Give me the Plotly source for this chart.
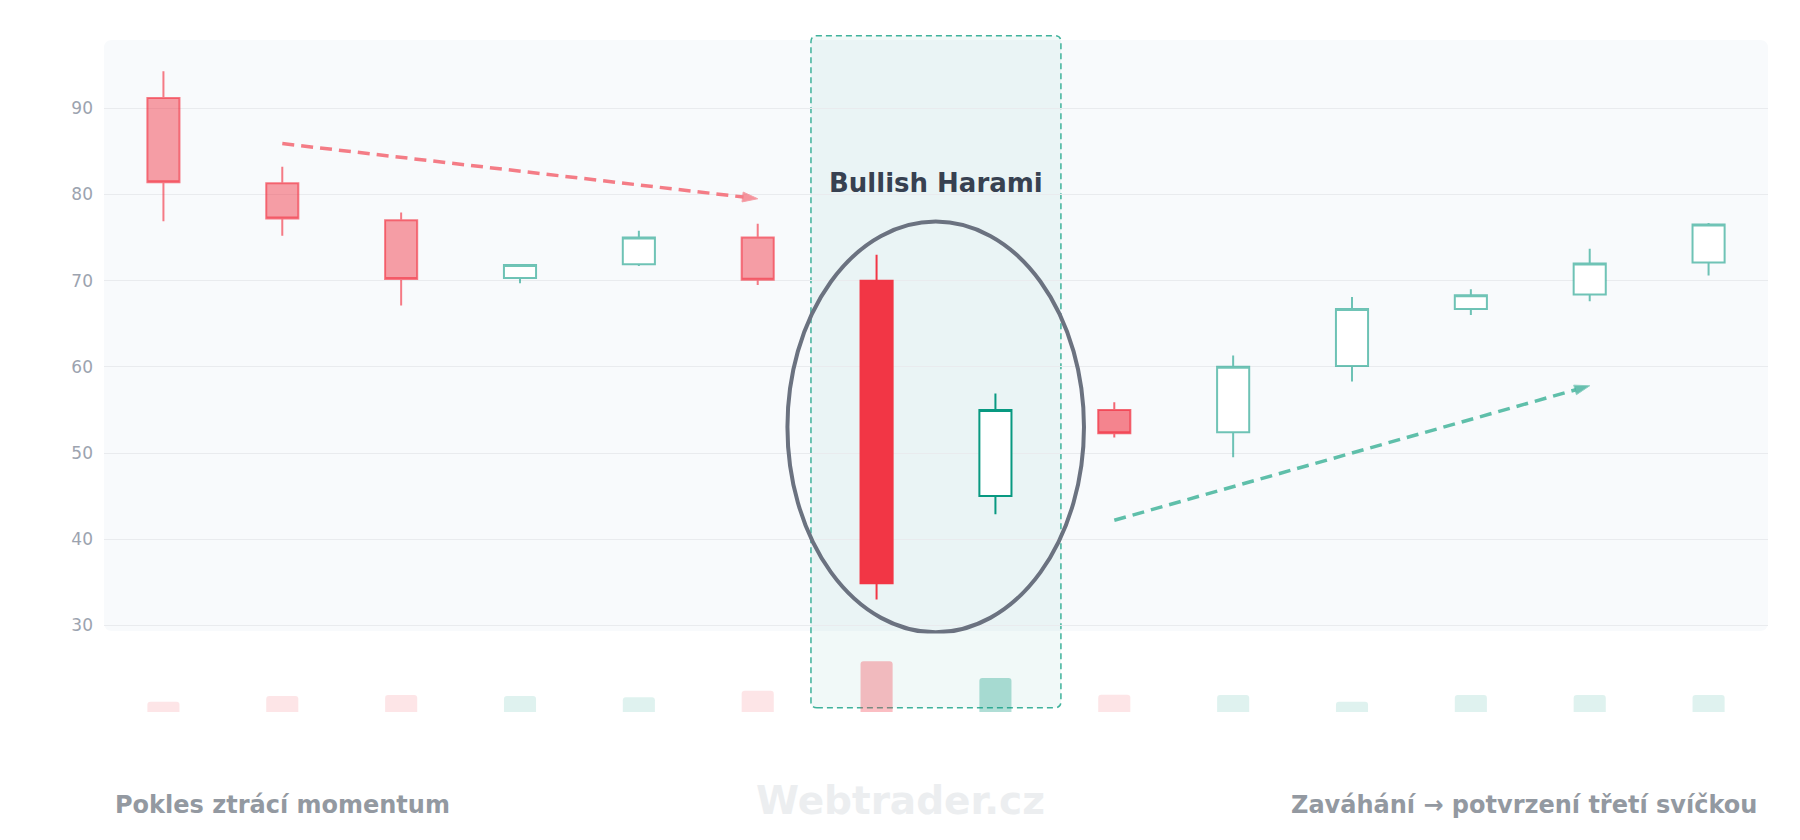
import plotly.graph_objects as go

# candle values (14 sessions)
opens = [91.2, 81.3, 77.0, 70.3, 71.9, 75.0, 70.0, 45.0, 55.0, 52.4, 60.1, 66.7, 68.4, 72.1]
highs = [94.3, 83.2, 77.9, 71.9, 75.8, 76.6, 73.0, 56.9, 55.9, 61.3, 68.1, 69.0, 73.7, 76.7]
lows = [76.9, 75.2, 67.1, 69.7, 71.7, 69.5, 33.0, 42.9, 51.8, 49.5, 58.3, 66.0, 67.6, 70.6]
closes = [81.4, 77.2, 70.2, 71.8, 75.0, 70.1, 34.9, 55.0, 52.3, 60.0, 66.7, 68.3, 72.0, 76.5]
volumes = [12, 19, 20, 19, 17.5, 25, 60, 40, 20.5, 20, 12, 20, 20, 20]
y_ticks = [30, 40, 50, 60, 70, 80, 90]

harami = [6, 7]
confirm = [8]

# trend arrows (start -> end)
down_x = [1, 5]
down_y = [85.9, 79.5]
up_x = [8, 12]
up_y = [42.2, 57.8]

label_pattern = 'Bullish Harami'
label_left = 'Pokles ztrácí momentum'
label_right = 'Zaváhání → potvrzení třetí svíčkou'
watermark = 'Webtrader.cz'

RED = '242,54,69'
GREEN = '8,153,129'

x = list(range(len(opens)))
context = [i for i in x if i not in harami + confirm]


def pick(idx, arr):
    return [arr[i] for i in idx]


fig = go.Figure()


def add_candles(idx, inc_line, inc_fill, dec_line, dec_fill):
    fig.add_trace(go.Candlestick(
        x=idx, open=pick(idx, opens), high=pick(idx, highs),
        low=pick(idx, lows), close=pick(idx, closes),
        increasing=dict(line=dict(color=inc_line, width=2), fillcolor=inc_fill),
        decreasing=dict(line=dict(color=dec_line, width=2), fillcolor=dec_fill),
        whiskerwidth=0, hoverinfo='skip'))


add_candles(context, f'rgba({GREEN},0.58)', 'white', f'rgba({RED},0.65)', f'rgba({RED},0.47)')
add_candles(confirm, f'rgba({GREEN},0.58)', 'white', f'rgba({RED},0.75)', f'rgba({RED},0.6)')
add_candles(harami, f'rgb({GREEN})', 'white', f'rgb({RED})', f'rgb({RED})')

# volume
vol_colors = []
for i in x:
    col = GREEN if closes[i] >= opens[i] else RED
    a = 0.32 if i in harami else 0.13
    vol_colors.append(f'rgba({col},{a})')
fig.add_trace(go.Bar(x=x, y=volumes, yaxis='y2', width=0.27,
                     marker=dict(color=vol_colors, cornerradius=3, line_width=0),
                     hoverinfo='skip'))

# trend arrows
for tx, ty, lc, hc in [(down_x, down_y, '#f47c86', '#f46a76'),
                       (up_x, up_y, '#5fbfaa', '#2aa78f')]:
    fig.add_trace(go.Scatter(
        x=tx, y=ty, mode='lines+markers',
        line=dict(color=lc, width=3.5, dash='12px,7px'),
        marker=dict(symbol='arrow', angleref='previous', size=[0, 16], color=hc),
        hoverinfo='skip'))


def rounded(x0, y0, x1, y1, rx, ry):
    return (f'M {x0+rx},{y0} L {x1-rx},{y0} Q {x1},{y0} {x1},{y0+ry} '
            f'L {x1},{y1-ry} Q {x1},{y1} {x1-rx},{y1} L {x0+rx},{y1} '
            f'Q {x0},{y1} {x0},{y1-ry} L {x0},{y0+ry} Q {x0},{y0} {x0+rx},{y0} Z')


shapes = [
    # panel background
    dict(type='path', xref='paper', yref='paper', layer='below',
         path=rounded(0, 0.1195, 1, 0.9912, 0.005, 0.012),
         fillcolor='#f8fafc', line=dict(width=0)),
    # pattern highlight
    dict(type='path', xref='x', yref='paper', layer='below',
         path=rounded(5.448, 0.0063, 7.551, 0.9975, 0.05, 0.009),
         fillcolor=f'rgba({GREEN},0.055)',
         line=dict(color='#3fb29b', width=1.5, dash='6px,4px')),
    dict(type='circle', xref='x', yref='y', x0=5.25, x1=7.745, y0=29.2, y1=76.85,
         line=dict(color='#6b7280', width=4)),
]

annotations = [
    dict(x=6.5, y=81.3, xref='x', yref='y', text=f'<b>{label_pattern}</b>', showarrow=False,
         font=dict(size=26, color='#374151')),
    dict(x=0.0055, y=-0.1379, xref='paper', yref='paper', xanchor='left', yanchor='middle',
         text=f'<b>{label_left}</b>', showarrow=False, font=dict(size=24, color='#9399a1')),
    dict(x=0.4784, y=-0.1300, xref='paper', yref='paper', xanchor='center', yanchor='middle',
         text=f'<b>{watermark}</b>', showarrow=False, font=dict(size=39, color='#eceef0')),
    dict(x=0.9943, y=-0.1379, xref='paper', yref='paper', xanchor='right', yanchor='middle',
         text=f'<b>{label_right}</b>', showarrow=False, font=dict(size=24, color='#9399a1')),
]

fig.update_layout(
    width=1792, height=824,
    margin=dict(l=96, r=32, t=26, b=120),
    paper_bgcolor='white', plot_bgcolor='rgba(0,0,0,0)',
    showlegend=False, boxgap=0.73, boxgroupgap=0,
    font=dict(family='DejaVu Sans'),
    shapes=shapes, annotations=annotations,
    xaxis=dict(range=[-0.5, 13.5], visible=False, rangeslider=dict(visible=False)),
    yaxis=dict(domain=[0.1159, 0.9912], range=[29.07, 97.92], tickvals=y_ticks,
               gridcolor='#e9ebee', zeroline=False, showline=False,
               tickfont=dict(size=17, color='#9ca3af'), ticklabelstandoff=10),
    yaxis2=dict(domain=[0, 0.1], range=[0, 80], visible=False),
)

fig.write_html('out.html')
